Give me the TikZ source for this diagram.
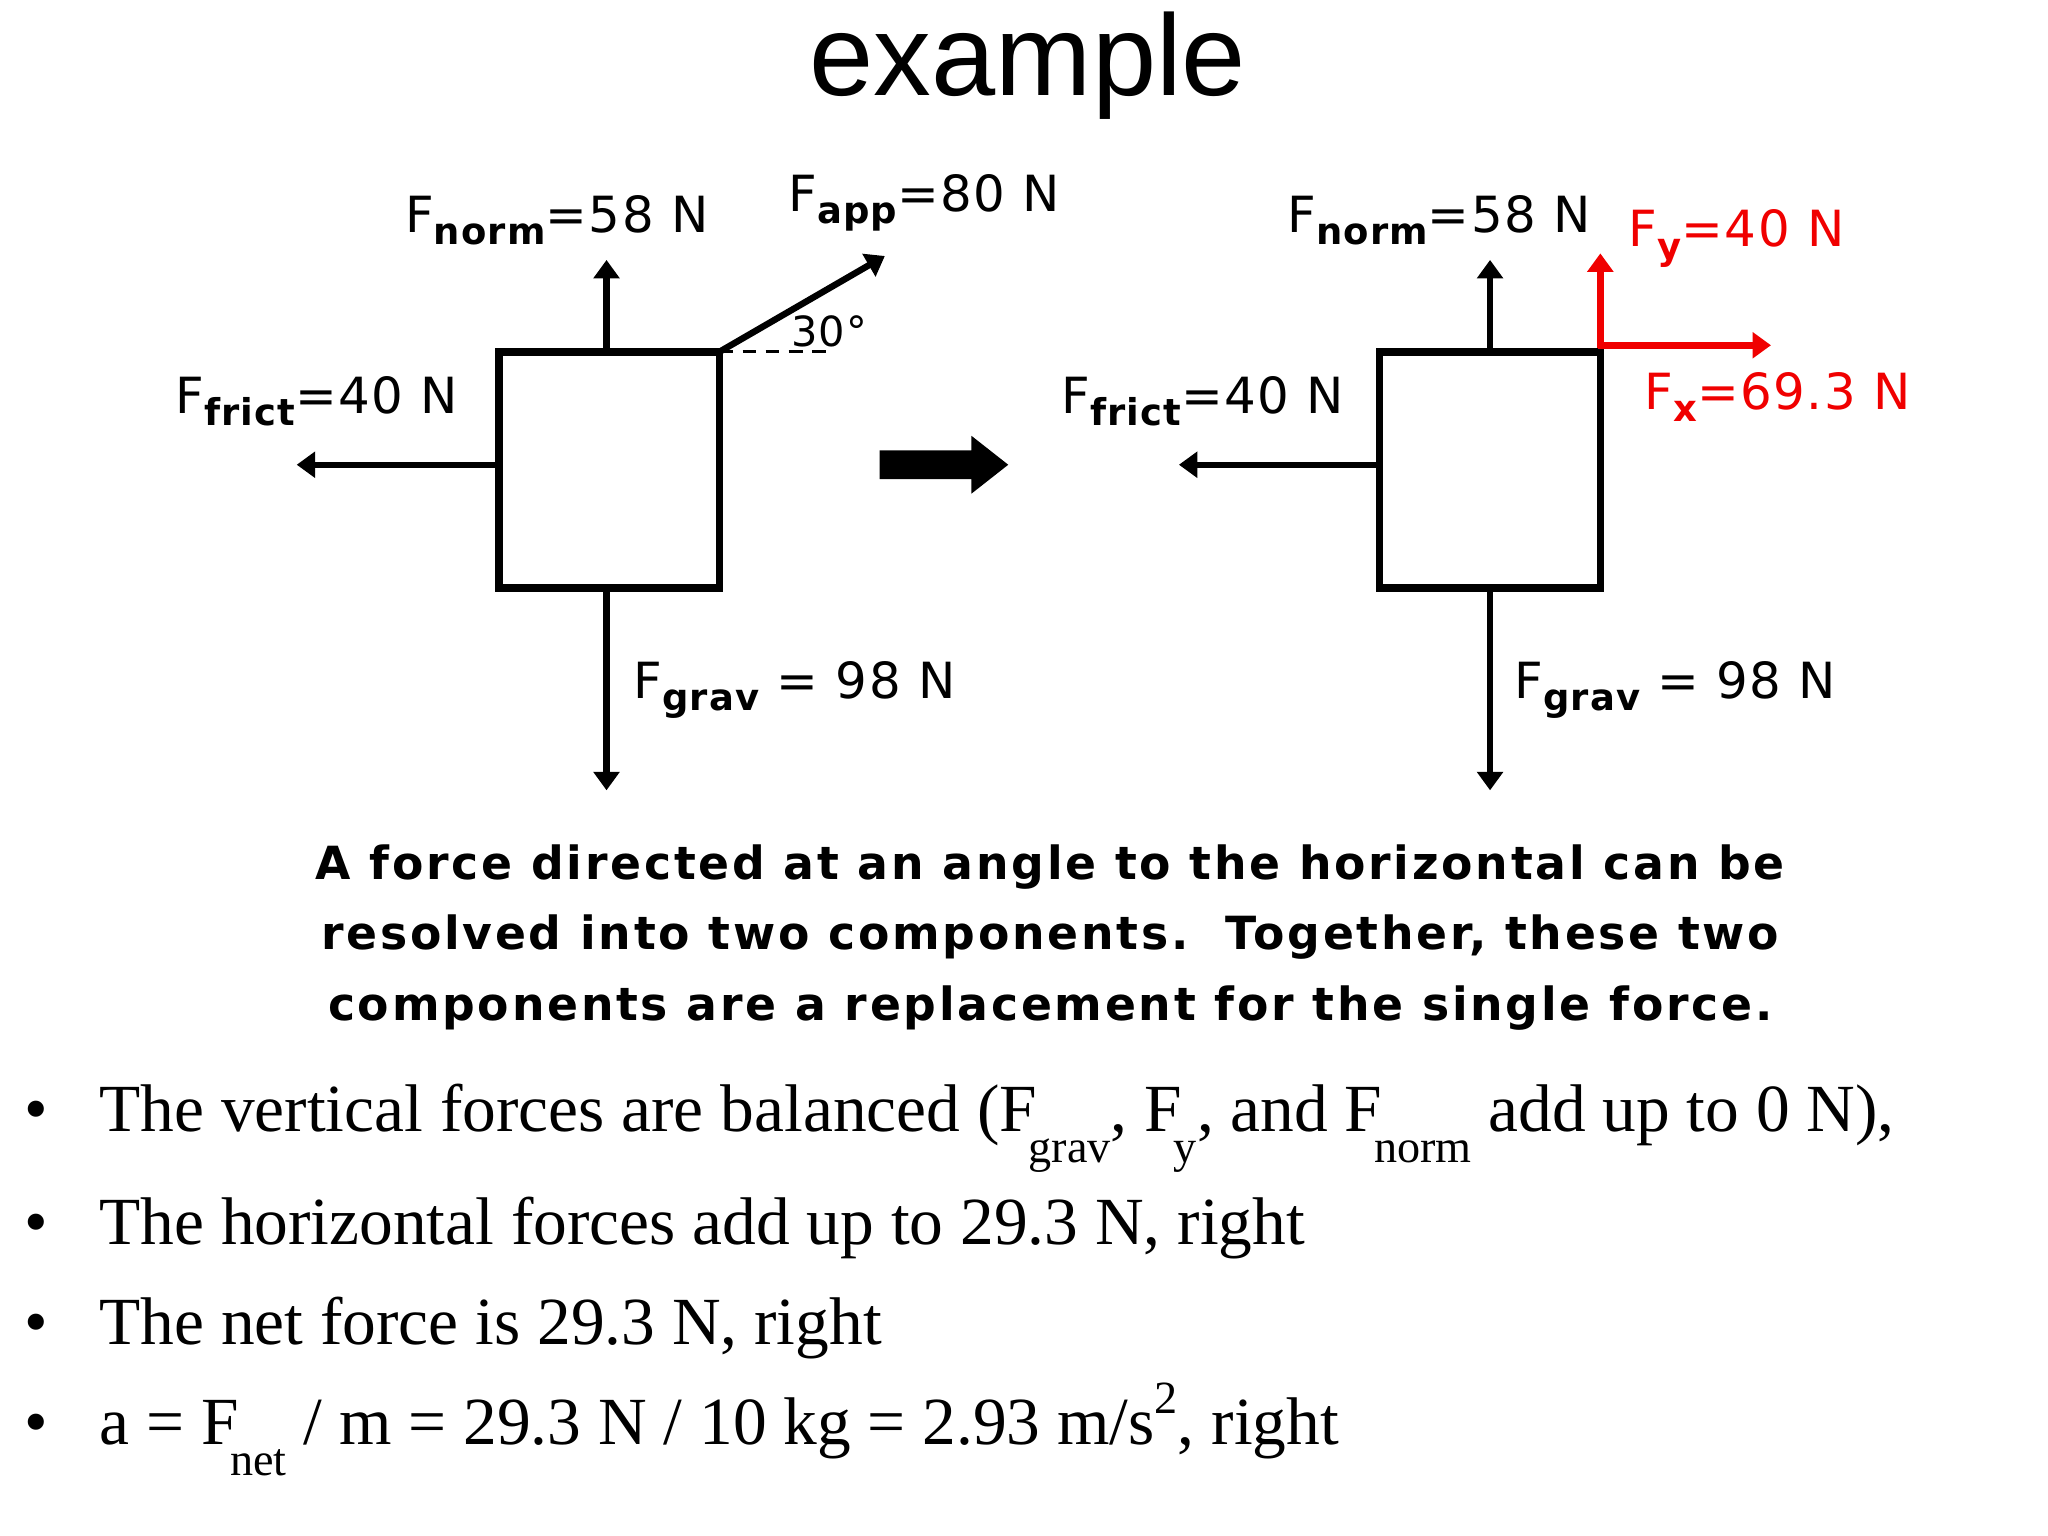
\documentclass[tikz,border=0pt]{standalone}
\usepackage{fontspec}
\setmainfont{Liberation Serif}
\newfontfamily\titlefont{Liberation Sans}
\newfontfamily\pixfont[LetterSpace=3]{DejaVu Sans}
\newfontfamily\capfont[LetterSpace=6]{DejaVu Sans}
\usetikzlibrary{arrows.meta}
\definecolor{fred}{RGB}{240,0,0}
\newcommand{\fsub}[1]{\raisebox{-0.45ex}{\fontsize{8}{9}\selectfont\bfseries #1}}
\newcommand{\tsub}[1]{\kern-0.12em\raisebox{-1.0ex}{\fontsize{10}{11}\selectfont #1}}
\newcommand{\tsup}[1]{\raisebox{1.0ex}{\fontsize{10}{11}\selectfont #1}}
\begin{document}
\begin{tikzpicture}[x=0.01cm,y=-0.01cm,
  force/.style={line width=1.4pt,-{Triangle[length=4pt,width=5.5pt]}},
  boxst/.style={draw,line width=1.6pt},
  lab/.style={font=\pixfont\fontsize{10.8}{13}\selectfont,inner sep=0pt,anchor=base west},
  bul/.style={anchor=base west,font=\fontsize{14.6}{18}\selectfont,inner sep=0pt}]
\useasboundingbox (0,0) rectangle (1560,1170);
\node[font=\titlefont\fontsize{25}{30}\selectfont] (title) at (783,50) {example};
% left diagram
\draw[boxst] (380,268) rectangle (548,448);
\coordinate (lt) at (462,268); \coordinate (lb) at (462,448); \coordinate (ll) at (380,354); \coordinate (lc) at (548,268);
\coordinate (ltu) at (462,198); \coordinate (lbd) at (462,602); \coordinate (lll) at (226,354); \coordinate (lapp) at (674,195); \coordinate (ldash) at (632,268);
\draw[force] (lt) -- (ltu);
\draw[force] (lb) -- (lbd);
\draw[force] (ll) -- (lll);
\draw[force] (lc) -- (lapp);
\draw[line width=0.6pt,dash pattern=on 3pt off 2pt] (lc) -- (ldash);
\node[lab,font=\pixfont\fontsize{9}{11}\selectfont] (ang) at (602,264) {30°};
\node[lab] (lnorm) at (308,177) {F\fsub{norm}=58 N};
\node[lab] (lappl) at (600,161) {F\fsub{app}=80 N};
\node[lab] (lfric) at (133,315) {F\fsub{frict}=40 N};
\node[lab] (lgrav) at (482,532) {F\fsub{grav} = 98 N};
% big arrow
\fill (670,343) -- (740,343) -- (740,332) -- (768,354) -- (740,376) -- (740,365) -- (670,365) -- cycle;
% right diagram
\draw[boxst] (1051,268) rectangle (1219,448);
\coordinate (rt) at (1135,268); \coordinate (rb) at (1135,448); \coordinate (rl) at (1051,354); \coordinate (rc) at (1219,265);
\coordinate (rtu) at (1135,198); \coordinate (rbd) at (1135,602); \coordinate (rll) at (898,354); \coordinate (ry) at (1219,193); \coordinate (rx) at (1349,263);
\draw[force] (rt) -- (rtu);
\draw[force] (rb) -- (rbd);
\draw[force] (rl) -- (rll);
\draw[force,fred] (rc) -- (ry);
\draw[force,fred] (1217,263) -- (rx);
\node[lab] (rnorm) at (980,177) {F\fsub{norm}=58 N};
\node[lab,fred] (rfy) at (1240,188) {F\fsub{y}=40 N};
\node[lab,fred] (rfx) at (1252,312) {F\fsub{x}=69.3 N};
\node[lab] (rfric) at (808,315) {F\fsub{frict}=40 N};
\node[lab] (rgrav) at (1153,532) {F\fsub{grav} = 98 N};
% caption
\node[inner sep=0pt,align=center,font=\capfont\bfseries\fontsize{9.9}{15.3}\selectfont] (cap) at (800,714)
 {A force directed at an angle to the horizontal can be\\resolved into two components.\ \ Together, these two\\components are a replacement for the single force.};
% bullets
\foreach \y/\n in {862/b1,948/b2,1024/b3,1100/b4}{\node[bul] (\n d) at (18,\y) {•};}
\node[bul] (b1) at (75,862) {The vertical forces are balanced (F\tsub{grav}, F\tsub{y}, and F\tsub{norm} add up to 0 N),};
\node[bul] (b2) at (75,948) {The horizontal forces add up to 29.3 N, right};
\node[bul] (b3) at (75,1024) {The net force is 29.3 N, right};
\node[bul] (b4) at (75,1100) {a = F\tsub{net} / m = 29.3 N / 10 kg = 2.93 m/s\tsup{2}, right};
\end{tikzpicture}
\end{document}
